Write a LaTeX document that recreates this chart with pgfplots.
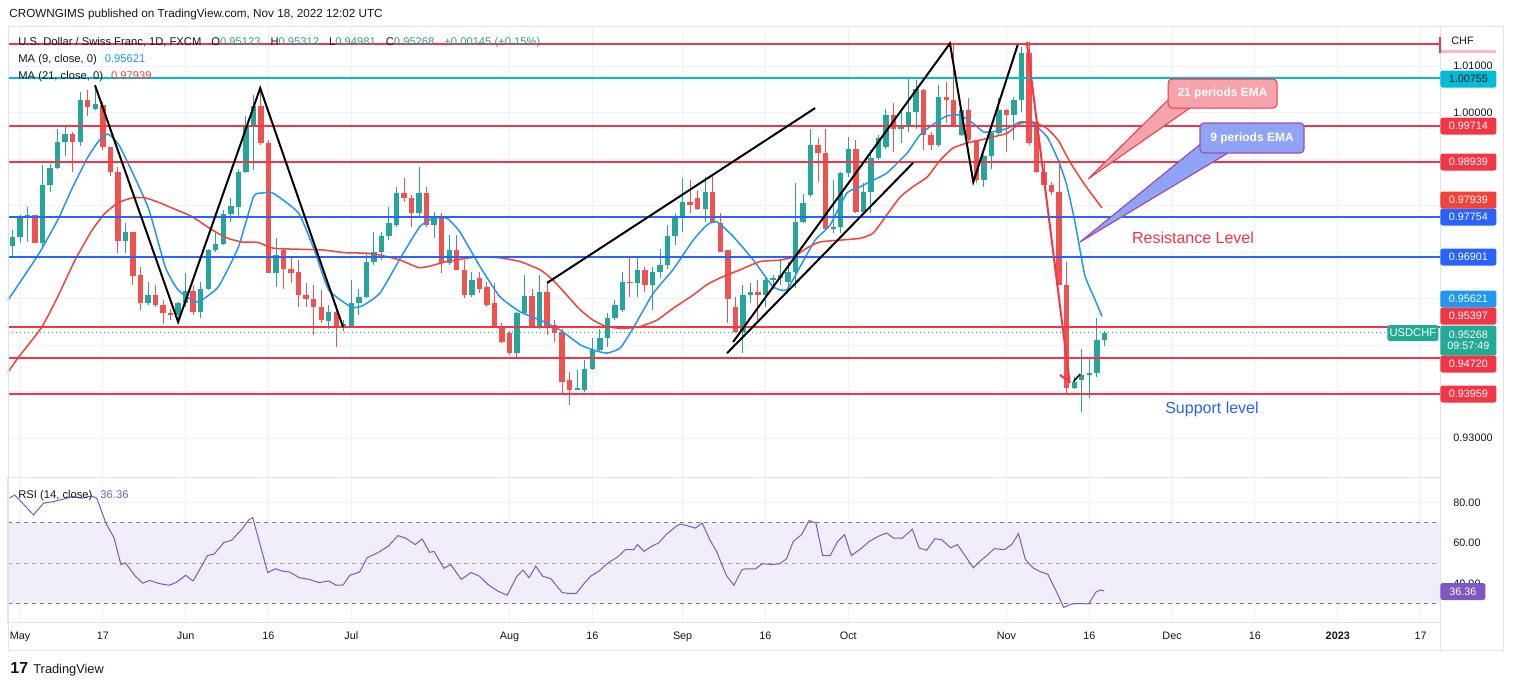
\documentclass[border=0pt]{standalone}
\usepackage{pgfplots}
\pgfplotsset{compat=1.18}
\usepackage{pgfplotstable}
\usepackage{fontspec}
\setmainfont{Liberation Sans}
\definecolor{cg}{HTML}{26A69A}
\definecolor{cr}{HTML}{EF5350}
\definecolor{hred}{HTML}{F23645}
\definecolor{hteal}{HTML}{00BCD4}
\definecolor{hblue}{HTML}{2962FF}
\definecolor{mablue}{HTML}{2196F3}
\definecolor{mared}{HTML}{F44336}
\definecolor{gridc}{HTML}{EEF1F7}
\definecolor{framec}{HTML}{E0E3EB}
\definecolor{txt}{HTML}{131722}
\definecolor{rsic}{HTML}{7E57C2}
\definecolor{bandc}{HTML}{F2EEF9}
\definecolor{dashc}{HTML}{787B86}
\definecolor{pinkbox}{HTML}{F7A3AA}
\definecolor{bluebox}{HTML}{90A4F6}
\definecolor{purp}{HTML}{9C4DB0}
\definecolor{lastg}{HTML}{22AB94}

\pgfplotstableread{
i o h l c
-1 .9713 .9748 .9690 .9733
0 .9733 .9780 .9719 .9773
1 .9775 .9798 .9721 .9779
3 .9719 .9888 .9712 .9845
4 .9845 .9889 .9830 .9882
5 .9882 .9964 .9879 .9936
6 .9936 .9970 .9906 .9954
8 .9938 1.0045 .9928 1.0027
10 1.0007 1.0059 1.0005 1.0019
14 .9725 .9762 .9698 .9743
17 .9590 .9637 .9587 .9608
21 .9565 .9592 .9549 .9590
22 .9590 .9655 .9583 .9617
24 .9571 .9637 .9558 .9622
25 .9622 .9708 .9619 .9705
26 .9705 .9741 .9701 .9718
27 .9718 .9791 .9716 .9782
28 .9782 .9816 .9766 .9800
29 .9798 .9880 .9777 .9873
30 .9873 .9992 .9870 .9970
31 .9970 1.0038 .9877 1.0015
34 .9655 .9730 .9626 .9694
41 .9553 .9587 .9536 .9571
43 .9540 .9555 .9530 .9545
44 .9540 .9640 .9540 .9590
45 .9590 .9620 .9565 .9604
46 .9603 .9698 .9601 .9680
47 .9680 .9744 .9672 .9701
48 .9701 .9744 .9683 .9734
49 .9734 .9798 .9726 .9762
50 .9759 .9841 .9755 .9827
53 .9784 .9884 .9777 .9827
55 .9759 .9787 .9730 .9773
57 .9676 .9737 .9673 .9705
60 .9608 .9658 .9604 .9640
66 .9483 .9572 .9472 .9569
67 .9569 .9651 .9565 .9605
69 .9540 .9651 .9536 .9615
74 .9404 .9447 .9404 .9408
75 .9404 .9468 .9400 .9450
76 .9450 .9515 .9447 .9490
77 .9490 .9536 .9486 .9515
78 .9515 .9569 .9497 .9558
79 .9558 .9597 .9554 .9587
80 .9576 .9658 .9572 .9637
82 .9633 .9690 .9604 .9662
84 .9630 .9669 .9576 .9658
85 .9658 .9708 .9644 .9673
86 .9673 .9758 .9665 .9734
87 .9734 .9784 .9716 .9773
88 .9773 .9859 .9744 .9809
91 .9794 .9862 .9766 .9830
96 .9529 .9630 .9483 .9608
97 .9608 .9633 .9590 .9614
99 .9608 .9644 .9583 .9640
100 .9640 .9651 .9622 .9644
101 .9644 .9683 .9630 .9651
102 .9637 .9680 .9623 .9658
103 .9658 .9848 .9623 .9766
104 .9766 .9826 .9762 .9805
105 .9823 .9966 .9819 .9931
108 .9751 .9855 .9741 .9755
109 .9755 .9873 .9741 .9870
110 .9870 .9948 .9862 .9923
112 .9787 .9848 .9784 .9830
113 .9830 .9920 .9784 .9902
114 .9902 .9952 .9898 .9945
115 .9927 1.0009 .9923 .9995
117 .9966 1.0002 .9934 .9970
118 .9970 1.0074 .9959 1.0002
119 1.0002 1.0070 .9966 1.0052
122 .9930 1.0060 .9927 1.0034
125 .9952 1.0009 .9949 1.0006
128 .9855 .9909 .9841 .9906
129 .9906 .9959 .9880 .9956
130 .9956 1.0031 .9949 1.0006
132 .9995 1.0034 .9941 1.0027
133 1.0027 1.0142 1.0002 1.0128
140 .9409 .9432 .9405 .9422
141 .9425 .9493 .9357 .9436
142 .9436 .9475 .9386 .9440
143 .9440 .9558 .9432 .9511
144 .95123 .95312 .94981 .95268
}\upcandles

\pgfplotstableread{
i o h l c
2 .9779 .9780 .9719 .9719
7 .9954 .9959 .9873 .9938
9 1.0027 1.0049 .9992 1.0012
11 1.0017 1.0024 .9920 .9926
12 .9927 .9927 .9863 .9873
13 .9873 .9884 .9698 .9725
15 .9743 .9743 .9630 .9649
16 .9651 .9669 .9576 .9590
18 .9608 .9630 .9583 .9587
19 .9587 .9597 .9546 .9569
20 .9569 .9579 .9554 .9565
23 .9617 .9630 .9565 .9571
32 1.0015 1.0053 .9931 .9934
33 .9934 .9941 .9655 .9655
35 .9705 .9708 .9622 .9665
36 .9665 .9687 .9633 .9655
37 .9658 .9683 .9583 .9607
38 .9608 .9633 .9583 .9599
39 .9599 .9630 .9522 .9582
40 .9582 .9619 .9547 .9554
42 .9571 .9587 .9497 .9540
51 .9827 .9859 .9809 .9816
52 .9816 .9823 .9755 .9784
54 .9827 .9841 .9755 .9759
56 .9773 .9784 .9655 .9676
58 .9705 .9737 .9662 .9662
59 .9662 .9683 .9601 .9608
61 .9644 .9658 .9612 .9622
62 .9626 .9637 .9583 .9586
63 .9590 .9633 .9540 .9540
64 .9540 .9547 .9504 .9508
65 .9526 .9530 .9480 .9483
68 .9605 .9622 .9540 .9540
70 .9615 .9637 .9522 .9540
71 .9544 .9554 .9508 .9526
72 .9529 .9536 .9393 .9422
73 .9425 .9443 .9372 .9404
81 .9637 .9690 .9604 .9633
83 .9662 .9669 .9615 .9630
89 .9809 .9855 .9784 .9802
90 .9816 .9834 .9791 .9794
92 .9830 .9866 .9762 .9762
93 .9762 .9784 .9701 .9701
94 .9705 .9705 .9547 .9599
95 .9583 .9604 .9526 .9529
98 .9614 .9641 .9554 .9608
106 .9930 .9945 .9852 .9913
107 .9913 .9966 .9748 .9751
111 .9923 .9941 .9784 .9787
116 .9995 1.0020 .9916 .9966
120 1.0049 1.0052 .9920 .9952
121 .9952 .9959 .9920 .9930
123 1.0034 1.0067 .9977 1.0027
124 1.0027 1.0149 .9970 .9974
126 1.0006 1.0031 .9938 .9941
127 .9941 .9941 .9848 .9855
131 1.0006 1.0009 .9916 .9995
134 1.0128 1.0153 .9931 .9934
135 .9981 .9984 .9870 .9873
136 .9873 .9895 .9837 .9845
137 .9845 .9851 .9823 .9830
138 .9830 .9898 .9630 .9630
139 .9630 .9680 .9397 .9407
}\downcandles

\pgfplotsset{
  tv/.style={
    scale only axis, width=716pt, xmin=-1.594, xmax=188.58,
    axis line style={draw=framec, line width=0.5pt},
    xtick={0,11,22,33,44,65,76,88,99,110,131,142,153,164,175,186},
    xmajorgrids, ymajorgrids, grid style={draw=gridc, line width=0.5pt},
    major tick length=0pt, tick style={draw=none},
    ticklabel style={font=\fontsize{5.4}{6}\selectfont, text=txt},
    /pgf/number format/assume math mode=true,
    clip=false, yticklabel pos=right,
    yticklabel style={anchor=west, xshift=3.2pt},
  },
  wick/.style={draw=none, mark=none, error bars/.cd, y dir=plus, y explicit, error mark=none,
     error bar style={draw=#1, line width=0.5pt}},
  body/.style={draw=none, mark=none, error bars/.cd, y dir=plus, y explicit, error mark=none,
     error bar style={draw=#1, line width=2.7pt}},
}

\begin{document}
\begin{tikzpicture}
\path[use as bounding box, fill=white] (0,0) rectangle (757pt,-342.5pt);

% ---------------- price pane ----------------
\begin{axis}[tv, at={(4pt,-238.5pt)}, anchor=south west, height=225.5pt,
  ymin=0.92167, ymax=1.01864,
  ytick={0.93,0.94,0.95,0.96,0.97,0.98,0.99,1.00,1.01},
  yticklabels={0.93000,,,,,,,1.00000,1.01000},
  xticklabels={}]
% candles
\addplot[wick=cg] table[x=i,y=l,y error expr=\thisrow{h}-\thisrow{l}] {\upcandles};
\addplot[body=cg] table[x=i,y=o,y error expr=\thisrow{c}-\thisrow{o}] {\upcandles};
\addplot[wick=cr] table[x=i,y=l,y error expr=\thisrow{h}-\thisrow{l}] {\downcandles};
\addplot[body=cr] table[x=i,y=c,y error expr=\thisrow{o}-\thisrow{c}] {\downcandles};
% MA 9
\addplot[mablue, line width=0.75pt, smooth, tension=0.3] coordinates {
(-1.6,.9597) (2.4,.9694) (5,.9769) (7.0,.9840) (9,.9904) (10.5,.9940) (11.7,.9954) (13.3,.9926)
(17,.9797) (19.3,.9668) (21,.9619) (23.5,.9593) (26.3,.9625) (29,.9711) (31,.9819) (32,.9827)
(33.6,.9827) (37,.9784) (39.2,.9700) (41,.9619) (44,.9582) (45.5,.9585) (47.8,.9612) (50.5,.9687)
(53.1,.9755) (54.9,.9773) (56.7,.9773) (58.4,.9744) (61.1,.9669) (63.7,.9605) (66.4,.9572)
(69.1,.9554) (71.7,.9533) (74.4,.9501) (76.1,.9490) (77.9,.9483) (79.7,.9494) (81.4,.9536)
(84.1,.9612) (86.7,.9662) (89.4,.9726) (91.2,.9758) (92.5,.9766) (94.7,.9734) (97.4,.9683)
(100,.9626) (101.8,.9619) (103.6,.9669) (105.6,.9726) (107.6,.9759) (109.8,.9827) (111.6,.9841)
(113.3,.9855) (115.1,.9870) (117.8,.9913) (119.5,.9952) (121.2,.9974) (123.1,.9993) (124.8,.9995)
(126.6,.9977) (127.9,.9959) (129.2,.9959) (131.1,.9966) (132.8,.9980) (134.5,.9977) (136.4,.9948)
(137.9,.9897) (139,.9845) (140.1,.9765) (141.4,.9651) (142.5,.9608) (143.7,.9562)};
% MA 21
\addplot[mared, line width=0.75pt, smooth, tension=0.3] coordinates {
(-1.6,.9442) (-0.3,.9472) (2.9,.9539) (5,.9604) (7.3,.9683) (9.6,.9748) (11.3,.9784) (13,.9806)
(14.9,.9817) (16.6,.9817) (18.3,.9808) (20.2,.9795) (22.8,.9777) (25.5,.9748) (27.6,.9730)
(29.5,.9722) (31.6,.9721) (33.5,.9709) (35.6,.9707) (40.1,.9705) (43.2,.9699) (45.8,.9698)
(47.8,.9694) (50.5,.9683) (52.9,.9667) (54.4,.9670) (56.7,.9680) (59.3,.9687) (61.1,.9690)
(63.7,.9688) (66.4,.9680) (69.1,.9662) (70.8,.9640) (72.6,.9608) (74.4,.9576) (76.1,.9554)
(77.9,.9540) (80.1,.9536) (82.3,.9540) (84.6,.9554) (86.7,.9579) (89.4,.9608) (91.2,.9630)
(93,.9645) (95.6,.9662) (98.3,.9680) (100.9,.9683) (102.7,.9690) (104.5,.9709) (106.2,.9722)
(108.9,.9726) (111.6,.9730) (113.3,.9741) (115.1,.9780) (116.9,.9819) (118.6,.9841) (120.5,.9862)
(122.2,.9898) (123.9,.9924) (125.8,.9935) (127.5,.9941) (129.2,.9948) (131.1,.9956) (132.8,.9977)
(134.5,.9980) (136.4,.9966) (137.9,.9940) (139.4,.9895) (141.4,.9845) (143.7,.9795)};
% horizontal levels
\addplot[hred, line width=1pt] coordinates {(-1.594,1.01471) (188.58,1.01471)};
\addplot[hteal, line width=1pt] coordinates {(-1.594,1.00755) (188.58,1.00755)};
\addplot[hred, line width=1pt] coordinates {(-1.594,0.99714) (188.58,0.99714)};
\addplot[hred, line width=1pt] coordinates {(-1.594,0.98939) (188.58,0.98939)};
\addplot[hblue, line width=1pt] coordinates {(-1.594,0.97754) (188.58,0.97754)};
\addplot[hblue, line width=1pt] coordinates {(-1.594,0.96901) (188.58,0.96901)};
\addplot[hred, line width=1pt] coordinates {(-1.594,0.95397) (188.58,0.95397)};
\addplot[hred, line width=1pt] coordinates {(-1.594,0.94720) (188.58,0.94720)};
\addplot[hred, line width=1pt] coordinates {(-1.594,0.93959) (188.58,0.93959)};
\addplot[lastg, line width=0.5pt, dash pattern=on 0.6pt off 1.4pt] coordinates {(-1.594,0.95268) (188.58,0.95268)};
% pattern lines
\addplot[black, line width=1pt] coordinates {(9.96,1.0059) (21,0.9550) (31.9,1.0053) (42.9,0.9539)};
\addplot[black, line width=1pt] coordinates {(70,0.9634) (105.6,1.0010)};
\addplot[black, line width=1pt] coordinates {(93.9,0.9483) (118.6,0.9892)};
\addplot[black, line width=1pt] coordinates {(94.7,0.9507) (123.5,1.0149) (126.6,0.9851) (132.5,1.0146)};
\addplot[hred, line width=1pt] coordinates {(133.7,1.0152) (139.4,0.9419)};
\addplot[hred, line width=1pt] coordinates {(138.1,0.9436) (139.4,0.9422)};
\addplot[black, line width=0.8pt] coordinates {(139.9,0.9422) (140.8,0.9438)};
\end{axis}

% ---------------- RSI pane ----------------
\begin{axis}[tv, at={(4pt,-311pt)}, anchor=south west, height=72.5pt,
  ymin=21.12, ymax=92.44, ytick={40,60,80}, yticklabels={40.00,60.00,80.00},
  xticklabels={May,17,Jun,16,Jul,Aug,16,Sep,16,Oct,Nov,16,Dec,16,\textbf{2023},17},
  xticklabel style={anchor=base, yshift=-8.6pt}]
\fill[bandc] (axis cs:-1.594,30) rectangle (axis cs:188.58,70);
\addplot[dashc, line width=0.5pt, dash pattern=on 2pt off 2pt] coordinates {(-1.594,70) (188.58,70)};
\addplot[dashc!70, line width=0.5pt, dash pattern=on 2pt off 2pt] coordinates {(-1.594,50) (188.58,50)};
\addplot[dashc, line width=0.5pt, dash pattern=on 2pt off 2pt] coordinates {(-1.594,30) (188.58,30)};
\addplot[rsic, line width=0.5pt] coordinates {
(-1.4,82) (-0.7,83.6) (1.8,73.8) (3.1,79.5) (4.4,80.3) (5.7,81.5) (7,82.8) (8.2,82) (9.5,83.1)
(10.2,82) (11.4,69.8) (12.5,62.4) (13.4,49.4) (14,50.2) (15.3,43.7) (16.3,40.2) (17.2,41.6)
(18.5,40) (19.8,39.2) (20.7,40.5) (22,44.1) (23,41.3) (24.9,53.8) (25.8,54.6) (27.1,60.3)
(28.1,61.3) (29.4,66.5) (30.4,71.4) (30.9,72.5) (32.9,45.4) (33.9,47.3) (34.8,46.2) (35.8,45.7)
(37.1,42.9) (38.4,42.1) (39.7,40.5) (41,41.3) (42,39.2) (42.9,39.3) (43.8,44.1) (45.1,45.7)
(46.1,52.7) (47.6,55.4) (48.9,58.4) (50.2,63.6) (51.2,62.4) (52.5,59.2) (53.4,62) (54.4,55.4)
(55,55.8) (56.3,47.5) (57.2,49.4) (58.6,42.1) (59.9,45.4) (61,43.7) (62.1,39.7) (63.4,36.4)
(64.7,34.3) (66,43.7) (66.8,46.7) (67.6,42.9) (68.5,48.6) (69.4,43.7) (70.5,42.4) (72,35.6)
(73,35.1) (73.9,35.3) (74.9,40) (75.8,43.7) (76.9,46.2) (78.1,50.2) (79.4,53.2) (80.4,56.7)
(81.5,56.7) (82,59.2) (82.9,55.9) (83.9,58.4) (84.8,60) (85.8,64.1) (87.1,68.1) (87.7,69.3)
(88.6,68.5) (89.7,67.3) (90.6,69.8) (91.6,61.6) (92.5,55.9) (93.8,44.1) (94.8,39.2) (95.9,47)
(96.7,47.3) (97.7,47.3) (98.6,49.8) (99.9,49.4) (100.9,49.8) (101.8,52.2) (102.7,60.8)
(103.8,64.1) (104.8,71.1) (105.7,69.8) (106.6,53.8) (107.6,53.8) (108.6,60.8) (109.5,64.1)
(110.4,53.8) (111.5,56.7) (112.8,60.8) (114,63.3) (115.1,64.9) (116,62.4) (117.2,62.4)
(118.5,66.8) (119.4,57.6) (120.4,56.4) (121.5,62.1) (122.4,61.6) (123.6,57.6) (124.5,59.2)
(125.6,53.2) (126.6,47.8) (127.5,51.1) (128.4,53.8) (129.4,57.2) (130.7,56.7) (131.7,59.2)
(132.6,64.6) (133.5,52) (134.5,47.8) (135.6,45.7) (136.5,44.6) (137.8,34.8) (138.6,28.3)
(139.7,30) (140.7,30.2) (141.9,30) (142.9,35.9) (143.5,36.9) (144,36.4)};
\end{axis}

% ---------------- overlays (pixel coordinates) ----------------
\begin{scope}[x=0.5pt,y=-0.5pt]
\draw[framec, line width=0.5pt] (8,26) -- (1503,26) -- (1503,650) -- (8,650) -- (8,26);
\draw[framec, line width=0.5pt] (1440,622) -- (1440,650);

\node[anchor=base west, inner sep=0, font=\fontsize{5.85}{7}\selectfont, text=txt] at (9,18)
  {CROWNGIMS published on TradingView.com, Nov 18, 2022 12:02 UTC};
\node[anchor=base west, inner sep=0, font=\fontsize{5.6}{6}\selectfont, text=txt] at (18,46)
  {U.S. Dollar / Swiss Franc, 1D, FXCM\hspace{5pt}O\textcolor{cg}{0.95123}\hspace{5pt}H\textcolor{cg}{0.95312}\hspace{5pt}L\textcolor{cg}{0.94981}\hspace{5pt}C\textcolor{cg}{0.95268}\hspace{5pt}\textcolor{cg}{+0.00145 (+0.15\%)}};
\node[anchor=base west, inner sep=0, font=\fontsize{5.6}{6}\selectfont, text=txt] at (18,62)
  {MA (9, close, 0)\hspace{4pt}\textcolor{mablue}{0.95621}};
\node[anchor=base west, inner sep=0, font=\fontsize{5.6}{6}\selectfont, text=txt] at (18,79)
  {MA (21, close, 0)\hspace{4pt}\textcolor{mared}{0.97939}};
\node[anchor=base west, inner sep=0, font=\fontsize{5.6}{6}\selectfont, text=txt] at (18,498)
  {RSI (14, close)\hspace{4pt}\textcolor{rsic}{36.36}};

% callouts
\filldraw[fill=pinkbox, draw=hred, line width=0.5pt] (1168,100) -- (1190,108) -- (1088,179) -- cycle;
\filldraw[fill=pinkbox, draw=hred, line width=0.5pt, rounded corners=2pt] (1168,79) rectangle (1277,108);
\node[text=white, font=\bfseries\fontsize{6}{7}\selectfont] at (1222.5,93.5) {21 periods EMA};
\filldraw[fill=bluebox, draw=purp, line width=0.6pt] (1203,142) -- (1228,153) -- (1080,242) -- cycle;
\filldraw[fill=bluebox, draw=purp, line width=0.6pt, rounded corners=2pt] (1200,123) rectangle (1304,153);
\node[text=white, font=\bfseries\fontsize{6}{7}\selectfont] at (1252,138) {9 periods EMA};
\node[text=hred, font=\fontsize{8}{9}\selectfont] at (1193,238) {Resistance Level};
\node[text=hblue, font=\fontsize{8}{9}\selectfont] at (1212,409) {Support level};

% price scale labels
\node[anchor=west, inner sep=0, font=\fontsize{5.4}{6}\selectfont, text=txt] at (1451,41) {CHF};
\fill[hred!35] (1440,50) rectangle (1496,53);
\draw[hred, line width=0.6pt] (1440,37) -- (1440,53);
\tikzset{plab/.style={anchor=west, inner sep=0, minimum width=28pt, minimum height=8.5pt,
  rounded corners=1.2pt, font=\fontsize{5.4}{6}\selectfont}}
\node[plab, fill=hteal, text=txt] at (1440,79) {1.00755};
\node[plab, fill=hred, text=white] at (1440,126) {0.99714};
\node[plab, fill=hred, text=white] at (1440,162) {0.98939};
\node[plab, fill=mared, text=white] at (1440,200) {0.97939};
\node[plab, fill=hblue, text=white] at (1440,217) {0.97754};
\node[plab, fill=hblue, text=white] at (1440,257) {0.96901};
\node[plab, fill=mablue, text=white] at (1440,299) {0.95621};
\node[plab, fill=hred, text=white] at (1440,316) {0.95397};
\node[plab, fill=lastg, text=white, minimum height=15pt, align=center] at (1440,340.5) {0.95268\\[-0.5pt]09:57:49};
\node[plab, fill=hred, text=white] at (1440,364) {0.94720};
\node[plab, fill=hred, text=white] at (1440,394) {0.93959};
\node[anchor=west, inner sep=0, minimum width=25.5pt, minimum height=8pt, rounded corners=1.2pt,
  fill=lastg, text=white, font=\fontsize{5.6}{6}\selectfont] at (1387,333) {USDCHF};
\node[plab, fill=rsic, text=white, minimum width=22.5pt] at (1440,591.5) {36.36};

% footer logo
\node[anchor=base west, inner sep=0, font=\bfseries\fontsize{8}{8}\selectfont, text=txt] at (10,673) {17};
\node[anchor=base west, inner sep=0, font=\fontsize{6.4}{7}\selectfont, text=txt] at (33,673) {TradingView};
\end{scope}
\end{tikzpicture}
\end{document}
